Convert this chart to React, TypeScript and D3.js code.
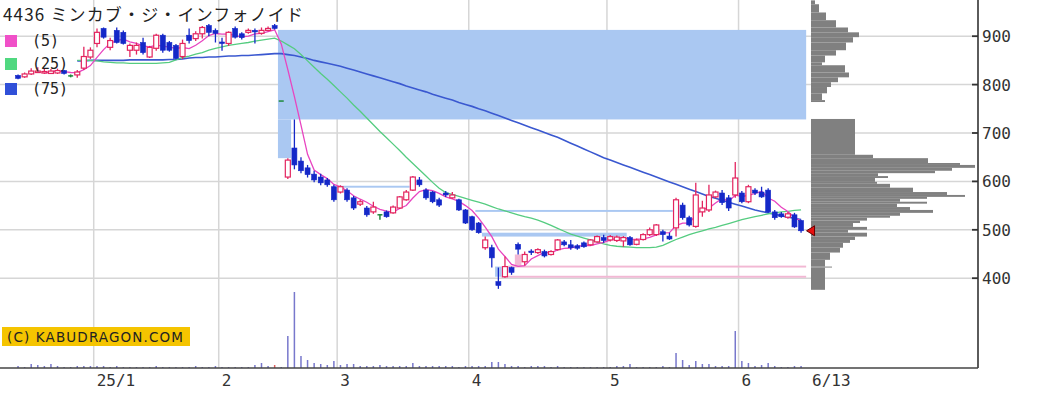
import React from "react";
import * as d3 from "d3";

// ---------- data ----------
const dates = [
  "12/13","12/16","12/17","12/18","12/19","12/20","12/23","12/24","12/25","12/26","12/27","12/30",
  "01/06","01/07","01/08","01/09","01/10","01/14","01/15","01/16","01/17","01/20","01/21","01/22","01/23","01/24","01/27","01/28","01/29","01/30","01/31",
  "02/03","02/04","02/05","02/06","02/07","02/10","02/12","02/13","02/14","02/17","02/18","02/19","02/20","02/21","02/25","02/26","02/27","02/28",
  "03/03","03/04","03/05","03/06","03/07","03/10","03/11","03/12","03/13","03/14","03/17","03/18","03/19","03/21","03/24","03/25","03/26","03/27","03/28","03/31",
  "04/01","04/02","04/03","04/04","04/07","04/08","04/09","04/10","04/11","04/14","04/15","04/16","04/17","04/18","04/21","04/22","04/23","04/24","04/25","04/28","04/30",
  "05/01","05/02","05/07","05/08","05/09","05/12","05/13","05/14","05/15","05/16","05/19","05/20","05/21","05/22","05/23","05/26","05/27","05/28","05/29","05/30",
  "06/02","06/03","06/04","06/05","06/06","06/09","06/10","06/11","06/12","06/13",
];

const opens = [
  819,816,822,825,824,823,824,829,818,820,834,857,
  885,916,877,912,908,871,871,887,857,875,902,887,881,858,902,895,905,922,912,
  888,885,916,905,908,912,906,912,922,766,609,669,642,628,615,609,603,589,
  578,582,566,553,545,537,531,537,535,545,562,582,603,582,578,562,576,566,562,541,
  527,514,463,463,393,403,422,470,434,456,453,455,449,459,475,469,467,473,469,475,484,
  479,478,477,484,470,480,490,490,496,487,504,551,525,507,537,541,568,576,566,572,
  576,558,582,578,582,537,533,526,531,519,
];
const highs = [
  821,825,834,836,834,832,833,830,821,830,878,877,
  916,918,897,918,912,885,887,897,880,905,905,890,884,893,916,910,921,925,916,
  897,910,920,908,916,916,918,920,925,766,648,728,650,634,622,616,607,593,
  592,586,570,562,549,558,532,540,550,570,582,611,609,586,580,566,580,578,564,543,
  529,516,486,469,422,445,424,474,455,460,462,459,458,481,479,479,470,476,481,488,490,
  489,488,487,487,482,493,505,512,500,494,566,556,529,597,560,593,581,582,572,640,
  580,593,586,589,586,541,537,537,535,521,
];
const lows = [
  811,814,820,824,822,822,822,821,815,814,830,853,
  877,895,871,885,883,857,862,862,855,870,866,868,852,853,885,890,895,900,887,
  870,880,895,893,905,885,903,910,914,766,605,625,617,608,598,592,589,558,
  575,558,541,549,527,533,521,525,533,543,560,580,589,562,555,547,568,564,539,512,
  498,492,459,422,378,401,407,449,426,448,450,443,447,457,466,459,459,463,467,473,473,
  476,475,465,467,468,478,487,487,476,479,486,521,507,504,527,537,565,551,539,566,
  555,555,572,566,535,521,525,523,504,494,
];
const closes = [
  813,822,828,828,827,828,829,823,818,826,858,871,
  908,898,891,887,885,881,881,866,877,902,871,871,854,885,891,905,918,908,906,
  885,908,898,897,912,910,912,916,916,766,644,634,622,614,603,597,593,562,
  589,562,545,558,531,547,531,527,547,568,578,609,593,566,558,551,572,572,541,514,
  500,494,479,442,385,424,412,460,449,453,459,446,455,479,469,463,462,465,479,486,478,
  486,485,484,469,479,490,500,510,490,481,562,525,510,572,545,572,578,556,545,607,
  558,589,576,568,537,525,527,533,506,498,
];
// thousand shares
const volumes = [
  20,10,40,30,20,40,20,10,10,20,20,20,
  20,20,10,20,10,10,10,10,10,20,10,10,10,10,10,20,10,10,20,
  10,10,10,10,10,30,50,20,30,10,320,760,120,80,50,40,30,70,
  30,40,40,20,20,20,30,20,20,20,20,50,20,20,20,20,20,20,10,20,
  20,20,20,60,60,40,20,20,10,20,20,20,10,20,10,10,10,10,10,10,10,
  10,20,20,40,10,10,10,10,20,10,150,80,30,70,40,40,20,20,20,370,
  70,50,20,30,50,20,10,10,20,20,
];
const redVolumeDates = ["02/14"];

const ma25 = [
  null,null,null,null,null,null,null,null,null,850,850,850,
  849,847,846,845,845,844,844,844,844,844,845,846,851,856,859,863,866,871,875,
  878,881,883,885,887,890,892,894,896,890,882,874,862,849,836,823,811,798,
  785,772,758,745,731,717,703,690,677,664,650,637,624,611,598,586,577,573,569,565,
  561,557,553,548,543,539,535,531,527,524,520,515,509,503,497,491,487,483,479,475,471,
  468,466,465,464,463,463,463,464,468,474,480,485,490,494,498,502,505,509,513,517,
  521,524,527,530,533,535,537,538,540,541,
];
const ma75 = [
  null,null,null,null,null,null,null,null,null,849,849,850,
  850,850,850,850,850,851,851,851,851,851,851,852,852,853,855,856,856,857,857,
  858,859,859,860,860,861,862,863,864,864,862,860,857,854,850,847,844,841,
  838,834,830,826,822,818,814,810,806,802,797,793,789,785,780,776,772,768,763,759,
  755,750,746,741,736,731,726,721,716,711,706,701,696,691,685,679,673,667,661,655,649,
  644,639,634,629,624,619,614,609,604,599,594,589,584,579,574,569,565,561,557,553,
  549,545,541,538,535,532,529,526,524,521,
];

const priceTicks = [400, 500, 600, 700, 800, 900];
const monthStartDates = ["01/06", "02/03", "03/03", "04/01", "05/01", "06/02"];
const monthLabels = ["25/1", "2", "3", "4", "5", "6"];
const lastDateLabel = "6/13";

// price-volume profile (price band high, low, volume)
const profileHigh = [974,966,949,933,918,908,898,887,871,860,846,840,825,815,805,795,782,768,
  729,655,648,638,634,628,622,617,611,607,599,595,587,578,572,568,564,558,554,547,541,535,529,525,519,514,506,500,494,486,479,473,463,453,438,424,422];
const profileLow = [966,949,933,918,908,898,887,871,860,846,840,825,815,805,795,782,768,764,
  655,648,638,634,628,622,617,611,607,599,595,587,578,572,568,564,558,554,547,541,535,529,525,519,514,506,500,494,486,479,473,463,453,438,424,422,376];
const profileVol = [4,8,15,25,37,48,42,35,25,14,11,34,38,27,20,16,11,14,
  44,62,117,149,164,141,124,67,77,64,66,79,102,136,154,116,89,116,86,99,122,89,79,56,49,42,56,37,56,44,39,32,29,19,14,21,14];

// price windows (gaps)
const zoneStart = ["02/17", "02/17", "03/03", "04/02", "04/03", "04/07", "04/08", "04/09", "04/10"];
const zoneEnd   = ["06/13", "02/18", "03/17", "05/16", "05/07", "04/07", "06/13", "06/13", "04/10"];
const zoneHigh  = [913, 728, 591, 541, 494, 424, 405, 426, 449];
const zoneLow   = [728, 648, 587, 537, 486, 403, 401, 422, 424];
const zoneKind  = ["down", "down", "down", "down", "down", "down", "up", "up", "up"];

const legendLabels = ["(5)", "(25)", "(75)"];
const title = "4436 ミンカブ・ジ・インフォノイド";
const watermark = "(C) KABUDRAGON.COM";

// ---------- component ----------
export default function App() {
  const W = 1042, H = 396;
  const plotRight = 978, plotBottom = 368;

  const x = d3.scaleBand<string>().domain(dates).range([14.75, 804.35]).padding(0);
  const bw = x.bandwidth();
  const cx = (d: string) => (x(d) as number) + bw / 2;
  const y = d3.scaleLinear().domain([400, 900]).range([278.2, 36.2]);
  const yVol = d3.scaleLinear().domain([0, 1000]).range([plotBottom, plotBottom - 100]);
  const xProf = d3.scaleLinear().domain([0, 170]).range([811, 981]);

  const ma5: (number | null)[] = closes.map((_, i) =>
    i < 4 ? null : (d3.mean(closes.slice(i - 4, i + 1)) as number)
  );

  const mkLine = (arr: (number | null)[]) =>
    d3
      .line<number | null>()
      .defined((v) => v != null)
      .x((_, i) => cx(dates[i]))
      .y((v) => y(v as number))(arr) || "";

  const colUp = "#e3245f";
  const colDown = "#1428c8";
  const colDoji = "#1f8a3c";
  const maColors = ["#e845c0", "#55cc80", "#3a58d0"];
  const legendColors = ["#f050c8", "#50d880", "#3050d8"];
  const lastDate = dates[dates.length - 1];
  const lastClose = closes[closes.length - 1];
  const bodyW = 5;

  return (
    <div style={{ position: "absolute", left: 0, top: 0 }}>
      <svg width={W} height={H} style={{ display: "block", background: "#fff" }}>
        <defs>
          <clipPath id="plot">
            <rect x={0} y={0} width={plotRight} height={plotBottom} />
          </clipPath>
        </defs>
        <rect x={0} y={0} width={W} height={H} fill="#fff" />
        <g clipPath="url(#plot)">
          {/* grid */}
          {priceTicks.map((t) => (
            <line key={"h" + t} x1={0} x2={plotRight} y1={y(t)} y2={y(t)} stroke="#d6d6d6" strokeWidth={1.5} />
          ))}
          {monthStartDates.map((d) => (
            <line key={"v" + d} x1={x(d) as number} x2={x(d) as number} y1={0} y2={plotBottom} stroke="#d6d6d6" strokeWidth={1.5} />
          ))}

          {/* gap zones */}
          {zoneStart.map((s, i) => {
            const x0 = x(s) as number;
            const x1 = (x(zoneEnd[i]) as number) + bw + (zoneEnd[i] === lastDate ? 1.8 : 0);
            const y0 = y(zoneHigh[i]);
            const y1 = y(zoneLow[i]);
            return (
              <rect key={"z" + i} x={x0} y={y0} width={x1 - x0} height={y1 - y0}
                fill={zoneKind[i] === "down" ? "#aac8f2" : "#f2b8d4"} />
            );
          })}

          {/* price volume profile */}
          {profileVol.map((v, i) => (
            <rect key={"p" + i} x={xProf(0)} y={y(profileHigh[i])}
              width={xProf(v) - xProf(0)} height={y(profileLow[i]) - y(profileHigh[i])}
              fill="#808080" />
          ))}

          {/* volume bars */}
          {volumes.map((v, i) => (
            <rect key={"v" + i} x={cx(dates[i]) - 0.75} y={yVol(v)} width={1.5}
              height={plotBottom - yVol(v)}
              fill={redVolumeDates.includes(dates[i]) ? "#e06060" : "#7878cc"} />
          ))}

          {/* moving averages */}
          <path d={mkLine(ma75)} fill="none" stroke={maColors[2]} strokeWidth={1.6} />
          <path d={mkLine(ma25)} fill="none" stroke={maColors[1]} strokeWidth={1.3} />
          <path d={mkLine(ma5)} fill="none" stroke={maColors[0]} strokeWidth={1.3} />

          {/* candles */}
          {dates.map((d, i) => {
            const o = opens[i], c = closes[i], h = highs[i], l = lows[i];
            const xc = cx(d);
            if (o === c) {
              return (
                <g key={"c" + i} stroke={colDoji} strokeWidth={1.5}>
                  <line x1={xc} x2={xc} y1={y(h)} y2={y(l)} />
                  <line x1={xc - bodyW / 2} x2={xc + bodyW / 2} y1={y(c)} y2={y(c)} />
                </g>
              );
            }
            const up = c > o;
            const top = y(Math.max(o, c));
            const bot = y(Math.min(o, c));
            const hgt = Math.max(bot - top, 1.5);
            const col = up ? colUp : colDown;
            return (
              <g key={"c" + i}>
                <line x1={xc} x2={xc} y1={y(h)} y2={y(l)} stroke={col} strokeWidth={1.3} />
                <rect x={xc - bodyW / 2} y={top} width={bodyW} height={hgt}
                  fill={up ? "#fff" : col} stroke={col} strokeWidth={up ? 1.2 : 0.6} />
              </g>
            );
          })}

          {/* last price marker */}
          {(() => {
            const tx = (x(lastDate) as number) + bw + 2.2;
            const ty = y(lastClose);
            return (
              <path d={`M${tx},${ty} L${tx + 8},${ty - 5} L${tx + 8},${ty + 5} Z`}
                fill="#e81010" stroke="#600" strokeWidth={1} />
            );
          })()}
        </g>

        {/* axes */}
        <line x1={plotRight} x2={plotRight} y1={0} y2={plotBottom} stroke="#333" strokeWidth={1.6} />
        <line x1={0} x2={plotRight} y1={plotBottom} y2={plotBottom} stroke="#444" strokeWidth={1.6} />
        {priceTicks.map((t) => (
          <g key={"t" + t}>
            <line x1={plotRight - 6} x2={plotRight} y1={y(t)} y2={y(t)} stroke="#333" strokeWidth={1.8} />
            <text x={982} y={y(t) + 6} fontFamily="DejaVu Sans Mono" fontSize={16} fill="#333">{t}</text>
          </g>
        ))}
        {monthStartDates.map((d, i) => (
          <text key={"m" + d} x={(x(d) as number) + 3} y={386} fontFamily="DejaVu Sans Mono" fontSize={16} fill="#333">
            {monthLabels[i]}
          </text>
        ))}
        <text x={cx(lastDate) + 11} y={386} fontFamily="DejaVu Sans Mono" fontSize={16} fill="#333">{lastDateLabel}</text>

        {/* title & legend */}
        <text x={3} y={21} fontFamily="'Noto Sans CJK JP'" fontSize={17} fill="#222" textLength={300} lengthAdjust="spacing">
          {title}
        </text>
        {legendLabels.map((lab, i) => {
          const yy = [35, 58, 83][i];
          return (
            <g key={"l" + i}>
              <rect x={5} y={yy} width={12} height={12} fill={legendColors[i]} />
              <text x={32} y={yy + 11} fontFamily="DejaVu Sans Mono" fontSize={15} fill="#222">{lab}</text>
            </g>
          );
        })}

        {/* watermark */}
        <rect x={2} y={327} width={188} height={19} fill="#f5c400" />
        <text x={7} y={342} fontFamily="DejaVu Sans" fontSize={13.5} fill="#222" textLength={176} lengthAdjust="spacing">
          {watermark}
        </text>
      </svg>
    </div>
  );
}
